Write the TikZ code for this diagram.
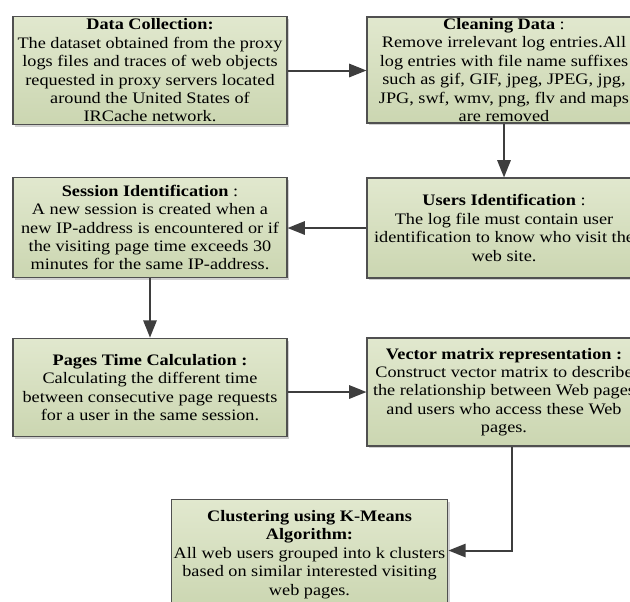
\documentclass[tikz,border=0pt]{standalone}
\usepackage{fontspec}
\setmainfont[FakeStretch=1.14]{Liberation Serif}
\usepackage{tikz}
\usetikzlibrary{calc,positioning,arrows.meta,shadows}
\usepackage{xcolor}
\definecolor{boxtop}{RGB}{225,232,206}
\definecolor{boxbot}{RGB}{203,214,177}
\definecolor{bordc}{RGB}{80,80,80}
\definecolor{arrc}{RGB}{62,62,62}
\tikzset{
  stage/.style={rectangle,draw=bordc,line width=0.8pt,top color=boxtop,bottom color=boxbot,
    minimum width=205.5pt,inner sep=1pt,align=center,
    font=\fontsize{12}{13.8}\selectfont,
    drop shadow={shadow xshift=1.8pt,shadow yshift=-1.8pt,fill=black!30,opacity=0.6}},
  flow/.style={-{Triangle[length=13pt,width=10pt]},line width=1.5pt,arrc},
}

\begin{document}
\begin{tikzpicture}[x=0.75pt,y=-0.75pt]
  \useasboundingbox (0,0) rectangle (630,601);
  \clip (0,0) rectangle (630,601);
  % left column
  \node[stage,minimum height=81pt] (dc) at (150,70.5){\textbf{Data Collection:}\\The dataset obtained from the proxy\\logs files and traces of web objects\\requested in proxy servers located\\around the United States of\\IRCache network.};
  \node[stage,minimum height=75.5pt] (sess) at (150,227.5){\textbf{Session Identification} :\\A new session is created when a\\new IP-address is encountered or if\\the visiting page time exceeds 30\\minutes for the same IP-address.};
  \node[stage,minimum height=74pt] (ptime) at (150,387.5){\textbf{Pages Time Calculation :}\\Calculating the different time\\between consecutive page requests\\for a user in the same session.};
  % right column (runs past the page edge)
  \node[stage,minimum height=79.5pt] (clean) at (504,70){\textbf{Cleaning Data} :\\Remove irrelevant log entries.All\\log entries with file name suffixes\\such as gif, GIF, jpeg, JPEG, jpg,\\JPG, swf, wmv, png, flv and maps\\are removed};
  \node[stage,minimum height=75pt] (users) at (504,228){\textbf{Users Identification} :\\The log file must contain user\\identification to know who visit the\\web site.};
  \node[stage,minimum height=81pt] (vmat) at (504,392){\textbf{Vector matrix representation :}\\Construct vector matrix to describe\\the relationship between Web pages\\and users who access these Web\\pages.};
  % last stage
  \node[stage,minimum width=207.5pt,minimum height=82pt] (clust) at (309.5,554.5){\textbf{Clustering using K-Means}\\\textbf{Algorithm:}\\All web users grouped into k clusters\\based on similar interested visiting\\web pages.};
  % flow between stages
  \coordinate (vout) at ($(vmat.south)+(8,0)$);
  \coordinate (cin) at ($(clust.east)+(0,-4)$);
  \draw[flow] (dc.east) -- (dc.east -| clean.west);
  \draw[flow] (clean) -- (users);
  \draw[flow] (users.west) -- (users.west -| sess.east);
  \draw[flow] (sess) -- (ptime);
  \draw[flow] (vmat.west -| ptime.east) -- (vmat.west);
  \draw[flow] (vout) |- (cin);
\end{tikzpicture}
\end{document}
